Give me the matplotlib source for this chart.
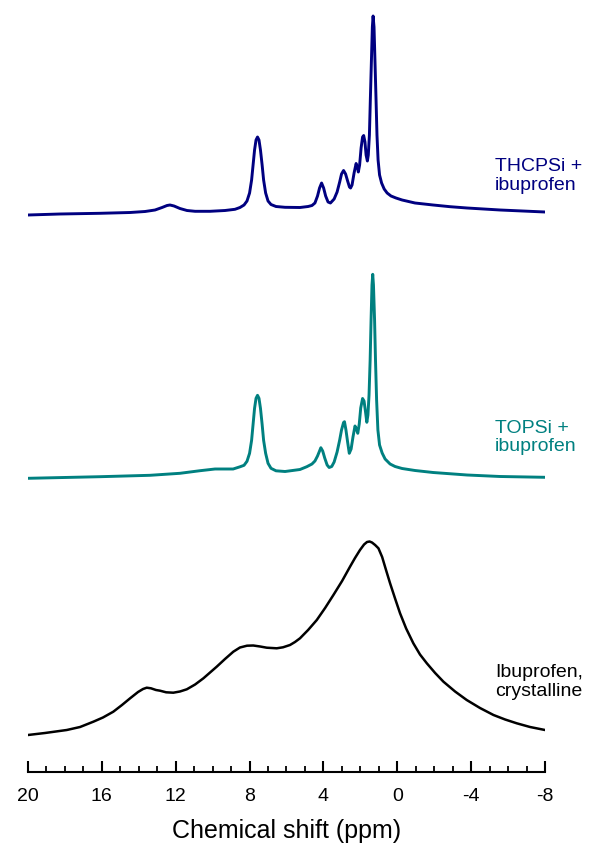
import matplotlib
matplotlib.use("Agg")
from matplotlib import pyplot as plt
from matplotlib.ticker import MultipleLocator
import numpy as np

plt.rcParams['font.family'] = ['Liberation Sans', 'DejaVu Sans']

# THCPSi + ibuprofen (ppm, intensity above its own baseline)
thcpsi_ppm = [20.0, 18.27, 16.10, 14.47, 13.66, 13.12, 12.74, 12.47, 12.31, 12.09,
              11.77, 11.39, 10.95, 10.14, 9.33, 8.79,
              8.52, 8.30, 8.14, 8.00, 7.89, 7.81, 7.73, 7.65, 7.57, 7.49,
              7.41, 7.32, 7.24, 7.13, 7.00, 6.84, 6.57,
              6.08, 5.27, 4.83, 4.62, 4.46, 4.32, 4.21, 4.10, 3.99, 3.88,
              3.75, 3.62, 3.42, 3.26, 3.12, 3.02, 2.91, 2.80, 2.69, 2.59,
              2.53, 2.45, 2.34, 2.23, 2.16, 2.11, 2.04, 1.96, 1.88, 1.82,
              1.75, 1.69, 1.62, 1.57, 1.51, 1.46, 1.40, 1.35, 1.31, 1.26,
              1.21, 1.15, 1.10, 1.04, 0.96, 0.85, 0.71, 0.55, 0.34, 0.07,
              -0.26, -0.96, -1.94, -2.86, -3.78, -5.57, -8.0]
thcpsi_int = [0, 1, 1.7, 2.5, 3.5, 5, 7.5, 9.5, 10, 9,
              6.5, 4.5, 3.7, 3.7, 4.5, 5.7,
              7.5, 10, 14, 22, 35, 50, 65, 75, 78, 75,
              65, 50, 35, 22, 14, 10.5, 8.5,
              7.7, 7.5, 8.5, 9.5, 12, 19, 27, 32, 27, 19,
              13, 12, 16, 23, 33, 41, 44.5, 41, 34, 28,
              27, 30, 42, 51.5, 48, 43, 50, 67, 78, 79.5,
              73, 60, 54, 60, 80, 115, 155, 188, 199, 188,
              155, 115, 80, 55, 40, 32, 26, 22, 19, 17,
              15, 12, 10, 8.3, 7, 5, 3]

# TOPSi + ibuprofen
topsi_ppm = [20.0, 16.10, 13.39, 11.77, 10.68, 9.87, 8.89,
             8.52, 8.30, 8.14, 8.00, 7.89, 7.81, 7.73, 7.65, 7.57, 7.49,
             7.41, 7.32, 7.24, 7.13, 7.00, 6.84, 6.57,
             6.08, 5.27, 4.90, 4.62, 4.46, 4.32, 4.21, 4.14, 4.04, 3.93,
             3.80, 3.69, 3.55, 3.42, 3.26, 3.12, 3.02, 2.91, 2.86, 2.78,
             2.69, 2.60, 2.50, 2.40, 2.29, 2.21, 2.14, 2.06, 1.98, 1.88,
             1.80, 1.72, 1.65, 1.59, 1.53, 1.47, 1.42, 1.37, 1.33, 1.29,
             1.23, 1.18, 1.12, 1.05, 0.96, 0.82, 0.66, 0.39, 0.12, -0.26,
             -0.96, -1.94, -3.78, -5.57, -8.0]
topsi_int = [0, 1.6, 3, 5, 7.6, 9.3, 9.3,
             11.5, 13, 17, 25, 38, 54, 70, 80, 83, 80,
             70, 54, 38, 25, 15, 10, 7.5,
             6.8, 8.8, 11.6, 14.3, 17.3, 22.3, 27.3, 30.6, 27.3, 20.3,
             13.3, 10.8, 11.8, 16.3, 26.3, 38.3, 48.3, 55.8, 56.6, 48.3,
             36.3, 25, 29.3, 41.3, 52.3, 49.3, 45, 54.3, 70.3, 79.8,
             77.3, 66.3, 56, 63.3, 83.3, 118.3, 158.3, 193.3, 204, 193.3,
             158.3, 118.3, 78.3, 48.3, 33.3, 25.3, 19.3, 14.3, 11.8, 9.8,
             7.8, 5.8, 3.3, 1.8, 1]

# Ibuprofen, crystalline
cryst_ppm = [20.0, 19.08, 17.90, 17.18, 16.46, 15.94, 15.38, 14.91, 14.47, 14.04,
             13.77, 13.57, 13.34, 13.07, 12.85, 12.52, 12.13, 11.77, 11.40, 10.95,
             10.50, 10.14, 9.78, 9.33, 8.88, 8.52, 8.14, 7.80, 7.43, 7.07,
             6.53, 6.19, 5.81, 5.54, 5.27, 4.83, 4.36, 3.91, 3.46, 2.99,
             2.56, 2.29, 2.02, 1.80, 1.64, 1.50, 1.37, 1.20, 1.02, 0.82,
             0.61, 0.39, 0.12, -0.15, -0.48, -0.87, -1.23, -1.60, -2.05, -2.50,
             -3.13, -3.76, -4.48, -5.21, -5.84, -6.47, -7.19, -8.0]
cryst_int = [0, 2, 5, 8, 13.3, 17.5, 23.3, 30, 36.7, 43,
             46, 47.3, 46.7, 45, 44.3, 42.7, 42.3, 43.5, 45.7, 50.5,
             56.7, 62.5, 68.3, 76, 83.3, 87.5, 89.3, 89.5, 88.5, 87.3,
             86.7, 87.7, 90, 93, 96.7, 105, 115, 127, 140, 154,
             168.3, 177, 185, 190.5, 193, 193.5, 192.5, 190, 186.7, 178,
             165, 151.7, 136.5, 121.7, 106.5, 91.7, 80.5, 71.7, 62, 53.3,
             43.5, 35, 27, 20, 15.5, 11.7, 8, 5]

labels = ["THCPSi +\nibuprofen", "TOPSi +\nibuprofen", "Ibuprofen,\ncrystalline"]
colors = ["#000080", "#008080", "#000000"]
offsets = [556.5, 293.2, 36.5]
label_y = [595.5, 334, 89.5]

fig = plt.figure(figsize=(5.94, 8.46), dpi=100)
ax = fig.add_axes([28/594, 74.5/846, 517/594, 771.5/846])

series = [(thcpsi_ppm, thcpsi_int), (topsi_ppm, topsi_int), (cryst_ppm, cryst_int)]
for (xs, ys), off, c, lab, ly in zip(series, offsets, colors, labels, label_y):
    lw = 1.8 if c == "#000000" else 2.1
    ax.plot(xs, np.array(ys) + off, color=c, lw=lw, solid_joinstyle='round')
    ax.text(-5.3, ly, lab, color=c, fontsize=14, va='center', ha='left',
            linespacing=1.15)

ax.set_xlim(20, -8)
ax.set_ylim(0, 771.5)
for s in ['top', 'left', 'right']:
    ax.spines[s].set_visible(False)
ax.spines['bottom'].set_linewidth(1.5)
ax.set_yticks([])
ax.xaxis.set_major_locator(MultipleLocator(4))
ax.xaxis.set_minor_locator(MultipleLocator(1))
ax.tick_params(axis='x', which='major', direction='in', length=8, width=1.5,
               labelsize=14, pad=12)
ax.tick_params(axis='x', which='minor', direction='in', length=4, width=1.3)
ax.set_xticks([20, 16, 12, 8, 4, 0, -4, -8])
ax.set_xticklabels(["20", "16", "12", "8", "4", "0", "-4", "-8"])
ax.set_xlabel("Chemical shift (ppm)", fontsize=18, labelpad=10)
ax.patch.set_alpha(0)

fig.savefig("out.png", dpi=100)
